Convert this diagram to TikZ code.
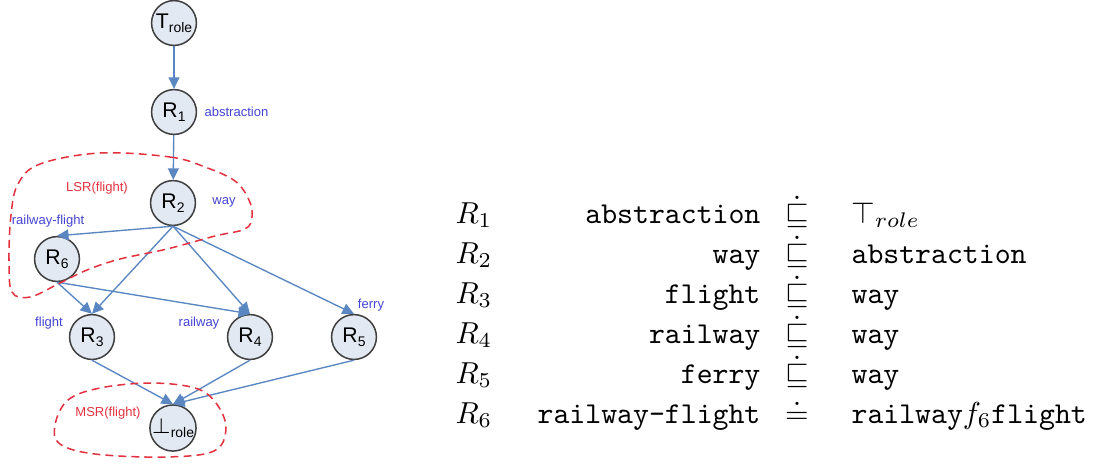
\documentclass[tikz,border=0pt]{standalone}
\usepackage{amsmath,amssymb}
\usepackage{fontspec}
\newfontfamily\arialfont{Liberation Sans}
\usetikzlibrary{arrows.meta}
\definecolor{edgeblue}{HTML}{5A87C2}
\definecolor{labelblue}{HTML}{4444D4}
\definecolor{dashred}{HTML}{E2323F}
\definecolor{rolefill}{HTML}{E3E9F3}
\newcommand{\rsub}[1]{\raisebox{-0.35ex}{\fontsize{4.6}{5}\selectfont #1}}
\newcommand{\dsq}{$\smash[t]{\dot{\sqsubseteq}}$}

\begin{document}
\begin{tikzpicture}[x=0.33pt,y=-0.33pt,
    role/.style={circle,draw=black!75,line width=0.5pt,fill=rolefill,minimum size=14.8pt,inner sep=0pt,font=\arialfont\fontsize{7}{8}\selectfont},
    isa/.style={draw=edgeblue,line width=0.45pt,-{Triangle[length=3.8pt,width=3.6pt]}},
    rolename/.style={text=labelblue,font=\arialfont\fontsize{4.3}{5}\selectfont,inner sep=0pt},
    setname/.style={text=dashred,font=\arialfont\fontsize{4.3}{5}\selectfont,inner sep=0pt},
    region/.style={draw=dashred,line width=0.5pt,dash pattern=on 2.6pt off 1.7pt},
    axiom/.style={inner sep=0pt}]
    \useasboundingbox (0,0) rectangle (1099,466);

    \node[role] (top) at (174,23) {T\rsub{role}};
    \node[role] (r1) at (174,112) {R\rsub{1}};
    \node[role] (r2) at (173,203) {R\rsub{2}};
    \node[role] (r6) at (57,259) {R\rsub{6}};
    \node[role] (r3) at (92,337) {R\rsub{3}};
    \node[role] (r4) at (250,337) {R\rsub{4}};
    \node[role] (r5) at (354,337) {R\rsub{5}};
    \node[role] (bot) at (173,428) {$\perp$\rsub{role}};

    \draw[isa] (top) -- (r1);
    \draw[isa] (r1) -- (r2);
    \draw[isa] (r2.south) -- (r6.north);
    \draw[isa] (r2.south) -- (r3.north);
    \draw[isa] (r2.south) -- (r4.north);
    \draw[isa] (r2.south) -- (r5.north);
    \draw[isa] (r6.south) -- (r3.north);
    \draw[isa] (r6.south) -- (r4.north);
    \draw[isa] (r3.south) -- (bot.north);
    \draw[isa] (r4.south) -- (bot.north);
    \draw[isa] (r5.south) -- (bot.north);

    \node[rolename,anchor=west] (n1) at (204,112) {abstraction};
    \node[rolename] (n2) at (224,202) {way};
    \node[rolename] (n6) at (48,221) {railway-flight};
    \node[rolename] (n3) at (49,323) {flight};
    \node[rolename] (n4) at (199,323) {railway};
    \node[rolename] (n5) at (371,305) {ferry};

    \draw[region] plot[smooth cycle,tension=0.6] coordinates {(100,153) (170,157) (205,167) (235,181) (249,200) (252,217) (245,229) (215,236) (167,249) (120,259) (87,270) (60,283) (30,297) (12,292) (9,260) (11,215) (18,184) (40,164)};
    \node[setname] (lsr) at (97,188) {LSR(flight)};
    \draw[region] plot[smooth cycle,tension=0.6] coordinates {(55,425) (68,400) (100,388) (150,383) (195,388) (216,403) (226,428) (214,451) (165,457) (95,454) (60,444)};
    \node[setname] (msr) at (108,413) {MSR(flight)};

    \node[axiom,anchor=base west] (a1) at (455,223) {$R_1$};
    \node[axiom,anchor=base west] (a2) at (455,263) {$R_2$};
    \node[axiom,anchor=base west] (a3) at (455,303) {$R_3$};
    \node[axiom,anchor=base west] (a4) at (455,343) {$R_4$};
    \node[axiom,anchor=base west] (a5) at (455,383) {$R_5$};
    \node[axiom,anchor=base west] (a6) at (455,423) {$R_6$};

    \node[axiom,anchor=base east] (b1) at (761,223) {\ttfamily abstraction};
    \node[axiom,anchor=base east] (b2) at (761,263) {\ttfamily way};
    \node[axiom,anchor=base east] (b3) at (761,303) {\ttfamily flight};
    \node[axiom,anchor=base east] (b4) at (761,343) {\ttfamily railway};
    \node[axiom,anchor=base east] (b5) at (761,383) {\ttfamily ferry};
    \node[axiom,anchor=base east] (b6) at (761,423) {\ttfamily railway-flight};

    \node[axiom,anchor=base] (c1) at (797,223) {\dsq};
    \node[axiom,anchor=base] (c2) at (797,263) {\dsq};
    \node[axiom,anchor=base] (c3) at (797,303) {\dsq};
    \node[axiom,anchor=base] (c4) at (797,343) {\dsq};
    \node[axiom,anchor=base] (c5) at (797,383) {\dsq};
    \node[axiom,anchor=base] (c6) at (797,423) {$\doteq$};

    \node[axiom,anchor=base west] (d1) at (851,223) {$\top_{role}$};
    \node[axiom,anchor=base west] (d2) at (851,263) {\ttfamily abstraction};
    \node[axiom,anchor=base west] (d3) at (851,303) {\ttfamily way};
    \node[axiom,anchor=base west] (d4) at (851,343) {\ttfamily way};
    \node[axiom,anchor=base west] (d5) at (851,383) {\ttfamily way};
    \node[axiom,anchor=base west] (d6) at (851,423) {\ttfamily railway$f_6$flight};
\end{tikzpicture}
\end{document}
